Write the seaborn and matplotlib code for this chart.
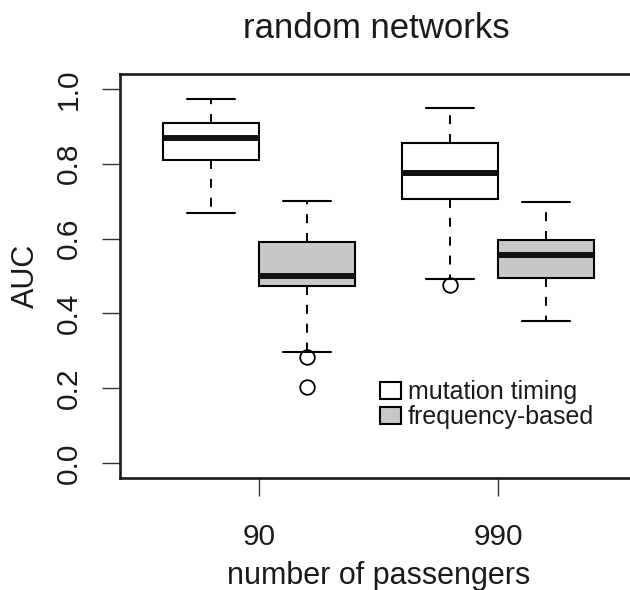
import numpy as np
import pandas as pd
import matplotlib
matplotlib.use("Agg")
import matplotlib.pyplot as plt
import seaborn as sns

# ---- data ----
groups = ["90", "990"]
methods = ["mutation timing", "frequency-based"]
# order: (90, mutation), (90, frequency), (990, mutation), (990, frequency)
box_group = ["90", "90", "990", "990"]
box_method = ["mutation timing", "frequency-based", "mutation timing", "frequency-based"]
q1 = [0.810, 0.473, 0.706, 0.494]
med = [0.868, 0.500, 0.775, 0.556]
q3 = [0.908, 0.592, 0.855, 0.597]
whisk_lo = [0.668, 0.297, 0.493, 0.379]
whisk_hi = [0.973, 0.700, 0.950, 0.697]
outliers = [[], [0.204, 0.284], [0.475], []]
yticks = [0.0, 0.2, 0.4, 0.6, 0.8, 1.0]
colors = ["white", "#c8c8c8"]

# build samples whose quartiles / whiskers reproduce the summary
rows = []
for g, m, a, b, c, lo, hi, out in zip(box_group, box_method, q1, med, q3,
                                      whisk_lo, whisk_hi, outliers):
    low = sorted(out) + [lo]
    while len(low) < 3:
        low.append(lo)
    vals = low + [a] * 3 + [b] * 3 + [c] * 3 + [hi]
    rows += [(g, m, v) for v in vals]
df = pd.DataFrame(rows, columns=["passengers", "method", "AUC"])

sns.set_style("ticks")
plt.rcParams["font.family"] = ["Liberation Sans", "DejaVu Sans"]

fig = plt.figure(figsize=(6.3, 5.9), dpi=100)
ax = fig.add_axes([120 / 630, (590 - 478) / 590, 520 / 630, 404 / 590])

sns.boxplot(data=df, x="passengers", y="AUC", hue="method",
            order=groups, hue_order=methods, palette=colors, saturation=1,
            width=0.8, gap=0, linecolor="black", linewidth=1.5, whis=1.5,
            fliersize=10, dodge=True, ax=ax,
            flierprops=dict(marker="o", markerfacecolor="none",
                            markeredgecolor="black", markersize=10,
                            markeredgewidth=1.3))

for cont in ax.containers:
    for w in cont.whiskers:
        w.set_linestyle((0, (4.6, 5.1)))
        w.set_linewidth(1.4)
        w.set_color("black")
    for cp in cont.caps:
        cp.set_linewidth(1.5)
        cp.set_color("black")
    for md in cont.medians:
        md.set_linewidth(4.3)
        md.set_color("#111111")
        md.set_solid_capstyle("butt")
    for fl in cont.fliers:
        fl.set_marker("o")
        fl.set_markerfacecolor("none")
        fl.set_markeredgecolor("black")
        fl.set_markersize(10.5)
        fl.set_markeredgewidth(1.3)
    for bx in cont.boxes:
        bx.set_edgecolor("black")
        bx.set_linewidth(1.5)

ax.set_xlim((120 - 259) / 239, (640 - 259) / 239)
ax.set_ylim(-0.04, 1.04)
ax.set_yticks(yticks)
ax.set_yticklabels([f"{t:.1f}" for t in yticks])

for s in ax.spines.values():
    s.set_visible(True)
    s.set_linewidth(1.9)
    s.set_color("#1a1a1a")

ax.tick_params(axis="both", length=13, width=1.0, color="#333333",
               labelsize=21.5, labelcolor="#1a1a1a")
ax.tick_params(axis="x", pad=19.5)
ax.tick_params(axis="y", pad=14, labelrotation=90)
for lab in ax.get_yticklabels():
    lab.set_va("center")

ax.set_xlabel("number of passengers", fontsize=22, color="#1a1a1a")
ax.set_ylabel("AUC", fontsize=22, color="#1a1a1a")
ax.xaxis.set_label_coords(0.498, (478 - 561) / 404)
ax.yaxis.set_label_coords((41 - 120) / 520, 0.5)

ax.set_title("random networks", fontsize=25, color="#1a1a1a",
             x=(376 - 120) / 520, pad=26)

handles, labels = ax.get_legend_handles_labels()
for h in handles:
    h.set_edgecolor("black")
    h.set_linewidth(1.5)
ax.legend(handles, labels, loc="upper left",
          bbox_to_anchor=(380 / 630, (590 - 380) / 590),
          bbox_transform=fig.transFigure, frameon=False, fontsize=18,
          borderpad=0, borderaxespad=0, handlelength=0.82,
          handleheight=0.68, handletextpad=0.3, labelspacing=0.05,
          labelcolor="#1a1a1a")

fig.savefig("out.png", dpi=100)
